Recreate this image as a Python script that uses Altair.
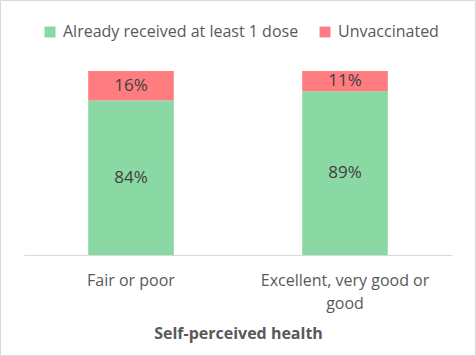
import altair as alt
import pandas as pd

health = ["Fair or poor", "Excellent, very good or good"]
status = ["Already received at least 1 dose", "Unvaccinated"]
vaccinated = [84, 89]
unvaccinated = [16, 11]
colors = ["#8AD8A3", "#FF7C80"]

rows = []
for h, v, u in zip(health, vaccinated, unvaccinated):
    rows.append({"health": h, "status": status[0], "value": v, "order": 0})
    rows.append({"health": h, "status": status[1], "value": u, "order": 1})
df = pd.DataFrame(rows)

FONT = "Open Sans"
GRAY = "#595959"

x = alt.X(
    "health:N",
    sort=health,
    title="Self-perceived health",
    scale=alt.Scale(paddingInner=0.6, paddingOuter=0.3),
    axis=alt.Axis(
        labelAngle=0,
        ticks=False,
        domainColor="#D9D9D9",
        domainWidth=1,
        labelColor=GRAY,
        labelFont=FONT,
        labelFontSize=16,
        labelPadding=17,
        labelLineHeight=23,
        labelExpr="datum.label == 'Excellent, very good or good' ? ['Excellent, very good or', 'good'] : datum.label",
        titleColor=GRAY,
        titleFont=FONT,
        titleFontSize=16,
        titleFontWeight="bold",
        titlePadding=14,
    ),
)

bars = alt.Chart(df).mark_bar().encode(
    x=x,
    y=alt.Y("value:Q", stack="zero", scale=alt.Scale(domain=[0, 100]), axis=None),
    color=alt.Color(
        "status:N",
        scale=alt.Scale(domain=status, range=colors),
        legend=alt.Legend(
            title=None,
            orient="none",
            direction="horizontal",
            legendX=18,
            legendY=-47,
            symbolType="square",
            symbolSize=120,
            symbolStrokeWidth=0,
            symbolOpacity=1,
            labelFont=FONT,
            labelFontSize=16,
            labelColor=GRAY,
            labelOffset=5,
            labelLimit=400,
            columnPadding=18,
        ),
    ),
    order=alt.Order("order:Q"),
)

texts = (
    alt.Chart(df)
    .transform_stack(stack="value", groupby=["health"], as_=["v0", "v1"], sort=[alt.SortField("order")])
    .transform_calculate(mid="(datum.v0 + datum.v1) / 2", lbl="datum.value + '%'")
    .mark_text(font=FONT, fontSize=17, color="#404040", baseline="middle")
    .encode(x=alt.X("health:N", sort=health), y=alt.Y("mid:Q"), text="lbl:N")
)

border = alt.Chart(pd.DataFrame({"a": [0]})).mark_rect(
    fill=None, stroke="#D9D9D9", strokeWidth=1, clip=False
).encode(
    x=alt.value(-23.5), x2=alt.value(451.5), y=alt.value(-70.5), y2=alt.value(284.5)
)

chart = (
    alt.layer(bars, texts, border)
    .properties(
        width=428,
        height=184,
        background="white",
        autosize=alt.AutoSizeParams(type="none"),
        padding={"left": 24, "top": 71, "right": 24, "bottom": 101},
    )
    .configure_view(stroke=None)
)

chart.save("out.html", embed_options={"renderer": "svg", "actions": False})
